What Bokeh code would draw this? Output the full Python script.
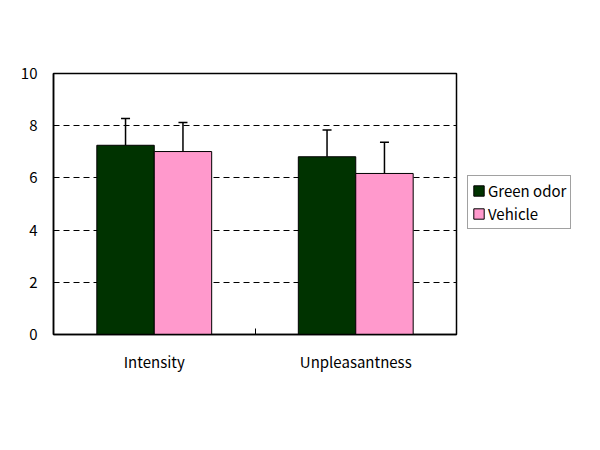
from bokeh.plotting import figure
from bokeh.models import (ColumnDataSource, Whisker, FixedTicker, Legend, LegendItem, Range1d, TeeHead)
from bokeh.embed import file_html
from bokeh.resources import INLINE

categories = ["Intensity", "Unpleasantness"]
series = ["Green odor", "Vehicle"]
green_vals = [7.25, 6.81]
green_err = [1.03, 1.03]
vehicle_vals = [7.01, 6.17]
vehicle_err = [1.11, 1.20]
colors = ["#003300", "#FF99CC"]
y_ticks = [0, 2, 4, 6, 8, 10]

FONT = "Noto Sans CJK JP"
centers = [i + 0.5 for i in range(len(categories))]
bw = 0.285

p = figure(frame_width=403, frame_height=261, output_backend="svg", toolbar_location=None,
           x_range=Range1d(0, len(categories)), y_range=Range1d(0, 10),
           min_border_left=53, min_border_right=0, min_border_top=73, min_border_bottom=66)
p.background_fill_color = "white"
p.border_fill_color = "white"
p.outline_line_color = "black"
p.outline_line_width = 1.5

renderers = []
for k, (vals, errs) in enumerate([(green_vals, green_err), (vehicle_vals, vehicle_err)]):
    off = (k - 0.5) * bw
    xs = [c + off for c in centers]
    src = ColumnDataSource(dict(x=xs, top=vals, upper=[v + e for v, e in zip(vals, errs)]))
    r = p.vbar(x="x", top="top", width=bw, source=src, fill_color=colors[k],
               line_color="black", line_width=1)
    renderers.append(r)
    w = Whisker(base="x", lower="top", upper="upper", source=src, line_color="black",
                line_width=1.5, lower_head=None,
                upper_head=TeeHead(size=9, line_color="black", line_width=1.5))
    p.add_layout(w)

# axes
p.xaxis.ticker = FixedTicker(ticks=centers, minor_ticks=[1])
p.xaxis.major_label_overrides = {c: n for c, n in zip(centers, categories)}
p.xaxis.major_tick_in = 0
p.xaxis.major_tick_out = 0
p.xaxis.minor_tick_in = 6
p.xaxis.minor_tick_out = 0
p.xaxis.major_label_standoff = 16
p.xaxis.axis_line_color = "black"
p.xaxis.axis_line_width = 1.5
p.yaxis.ticker = FixedTicker(ticks=y_ticks)
p.yaxis.major_tick_in = 0
p.yaxis.major_tick_out = 0
p.yaxis.minor_tick_line_color = None
p.yaxis.major_label_standoff = 16
p.yaxis.axis_line_color = "black"
p.yaxis.axis_line_width = 1.5
for ax in (p.xaxis[0], p.yaxis[0]):
    ax.major_label_text_font = FONT
    ax.major_label_text_font_size = "15px"
    ax.major_label_text_color = "black"

p.xgrid.grid_line_color = None
p.ygrid.ticker = FixedTicker(ticks=[2, 4, 6, 8])
p.ygrid.grid_line_color = "black"
p.ygrid.grid_line_dash = "6 4"
p.ygrid.grid_line_width = 1.2

legend = Legend(items=[LegendItem(label=s, renderers=[r]) for s, r in zip(series, renderers)],
                location=(11, 105), orientation="vertical")
legend.label_text_font = FONT
legend.label_text_font_size = "15px"
legend.label_text_color = "black"
legend.border_line_color = "#444444"
legend.border_line_width = 1
legend.glyph_width = 13
legend.glyph_height = 13
legend.label_standoff = 3
legend.padding = 4
legend.spacing = 2
legend.margin = 0
legend.label_height = 14
legend.label_text_line_height = 1.0
p.add_layout(legend, "right")

open("out.html", "w").write(file_html(p, INLINE))
